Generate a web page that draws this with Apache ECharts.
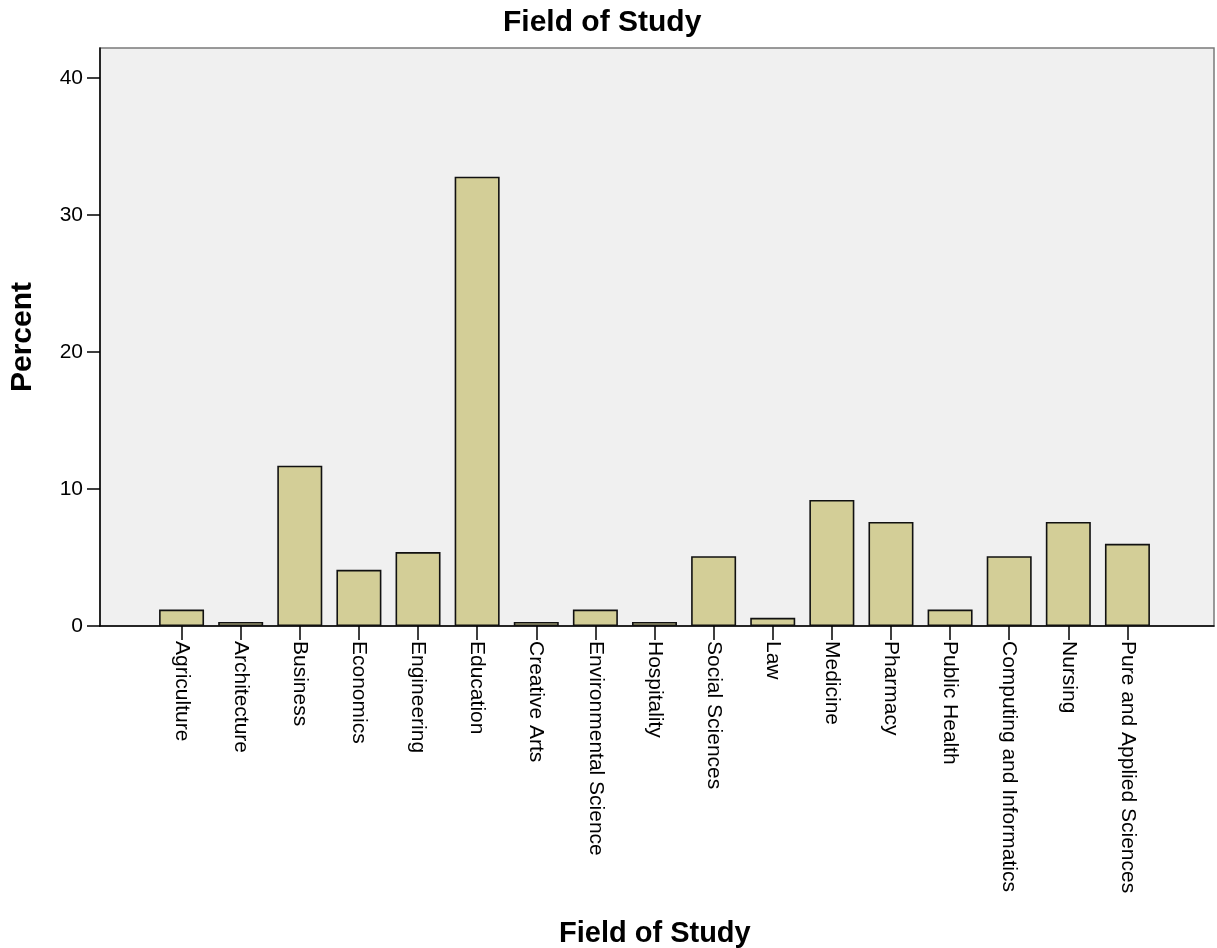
<!DOCTYPE html>
<html>
<head>
<meta charset="utf-8">
<script src="https://cdn.jsdelivr.net/npm/echarts@6/dist/echarts.min.js"></script>
<style>html,body{margin:0;padding:0;background:#fff;}#c{width:1217px;height:948px;}</style>
</head>
<body>
<div id="c"></div>
<script>
const categories = ["Agriculture","Architecture","Business","Economics","Engineering","Education","Creative Arts","Environmental Science","Hospitality","Social Sciences","Law","Medicine","Pharmacy","Public Health","Computing and Informatics","Nursing","Pure and Applied Sciences"];
const percents = [1.2, 0.3, 11.7, 4.1, 5.4, 32.8, 0.3, 1.2, 0.3, 5.1, 0.6, 9.2, 7.6, 1.2, 5.1, 7.6, 6.0];
const yTicks = [0, 10, 20, 30, 40];
const titleText = "Field of Study";
const xTitle = "Field of Study";
const yTitle = "Percent";

const FONT = "'Liberation Sans', Arial, sans-serif";
const Y_MAX = 42.2;
const chart = echarts.init(document.getElementById('c'), null, {renderer: 'canvas'});
chart.setOption({
  animation: false,
  backgroundColor: '#ffffff',
  graphic: [
    {type: 'text', top: 8, left: 503, style: {text: titleText, font: 'bold 30px ' + FONT, fill: '#000'}},
    {type: 'text', top: 919, left: 559, style: {text: xTitle, font: 'bold 29px ' + FONT, fill: '#000'}}
  ],
  grid: [
    {left: 97, right: 3, top: 48, bottom: 322, show: true, backgroundColor: '#F0F0F0', borderColor: '#7a7a7a', borderWidth: 1.5, containLabel: false},
    {left: 152, right: 60, top: 48, bottom: 322, show: false, containLabel: false}
  ],
  xAxis: [
    {gridIndex: 0, type: 'value', min: 0, max: 1, axisLine: {show: true, lineStyle: {color: '#000', width: 1.5}}, axisTick: {show: false}, axisLabel: {show: false}, splitLine: {show: false}},
    {gridIndex: 1, type: 'category', data: categories, boundaryGap: true,
     axisLine: {show: false},
     axisTick: {show: true, alignWithLabel: true, interval: 0, length: 14, lineStyle: {color: '#000', width: 1.5}},
     axisLabel: {interval: 0, rotate: -90, margin: 15, color: '#000', fontSize: 21, fontFamily: FONT},
     splitLine: {show: false}}
  ],
  yAxis: [
    {gridIndex: 0, type: 'value', min: 0, max: Y_MAX,
     name: yTitle, nameLocation: 'middle', nameGap: 62, nameRotate: 90,
     nameTextStyle: {fontSize: 30, fontWeight: 'bold', fontFamily: FONT, color: '#000'},
     axisLine: {show: true, lineStyle: {color: '#000', width: 1.5}},
     axisTick: {show: true, length: 13, customValues: yTicks, lineStyle: {color: '#000', width: 1.5}},
     axisLabel: {margin: 17, color: '#000', fontSize: 21, fontFamily: FONT, customValues: yTicks},
     splitLine: {show: false}},
    {gridIndex: 1, type: 'value', min: 0, max: Y_MAX, show: false}
  ],
  series: [{
    type: 'bar', xAxisIndex: 1, yAxisIndex: 1, data: percents, barWidth: 45,
    itemStyle: {color: '#D3CE97', borderColor: '#111', borderWidth: 1.6}
  }]
});
</script>
</body>
</html>
